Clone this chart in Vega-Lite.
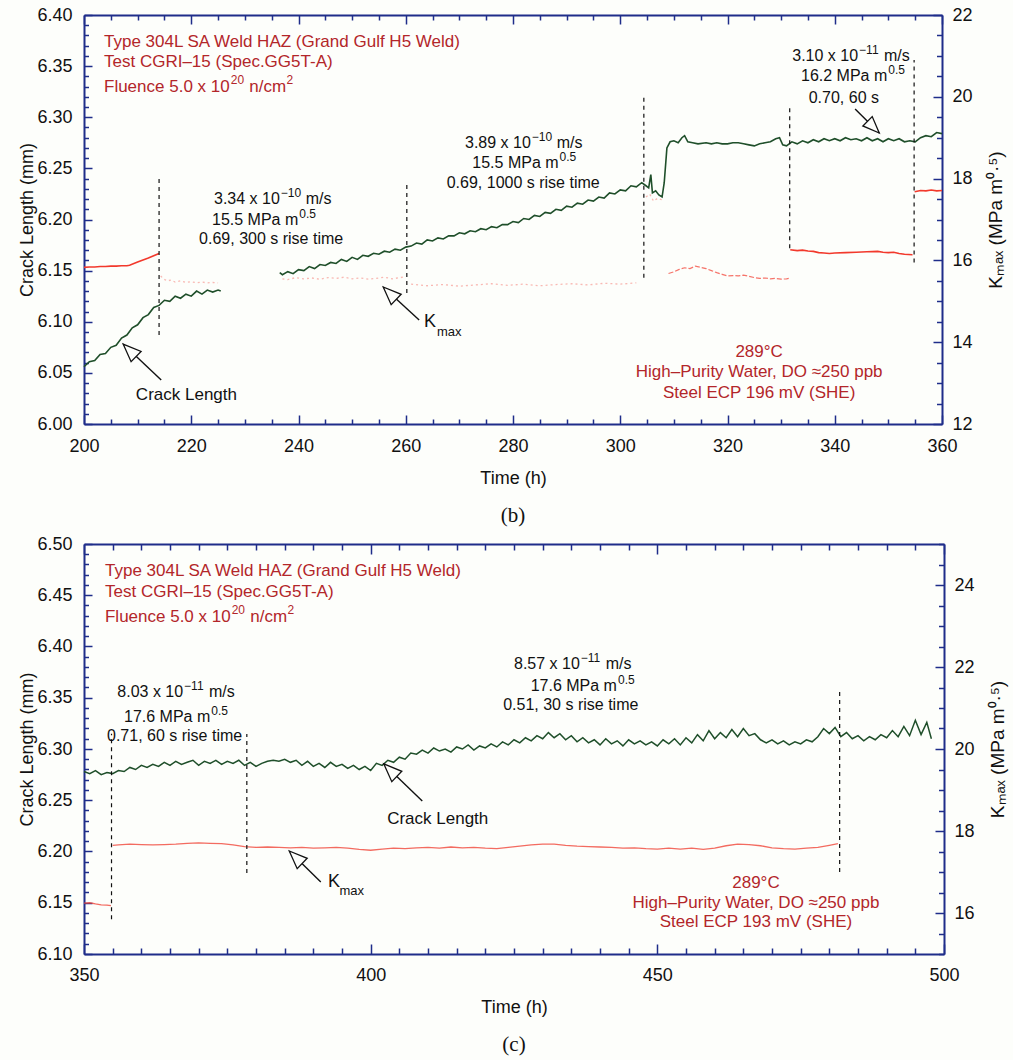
{
  "$schema": "https://vega.github.io/schema/vega-lite/v6.json",
  "background": "#fdfefb",
  "padding": {"left": 18, "top": 6, "right": 5, "bottom": 5},
  "spacing": 9,
  "config": {
    "view": {"stroke": null},
    "font": "Liberation Sans",
    "axis": {"labelFont": "Liberation Sans", "titleFont": "Liberation Sans", "labelFontSize": 18, "titleFontSize": 18, "titleFontWeight": "normal", "labelColor": "#111111", "titleColor": "#111111", "domainColor": "#1f2d8a", "tickColor": "#1f2d8a", "domainWidth": 2, "tickWidth": 1.5, "grid": false, "labelFlush": false, "labelOverlap": false},
    "title": {"font": "Liberation Serif", "fontSize": 21, "fontWeight": "normal", "color": "#111111"}
  },
  "datasets": {
    "gB": [
      {"t":200,"v":6.056,"s":1},{"t":201,"v":6.061,"s":1},{"t":202,"v":6.062,"s":1},{"t":203,"v":6.068,"s":1},{"t":204,"v":6.069,"s":1},{"t":205,"v":6.075,"s":1},{"t":206,"v":6.077,"s":1},{"t":207,"v":6.084,"s":1},{"t":208,"v":6.087,"s":1},{"t":209,"v":6.094,"s":1},{"t":210,"v":6.097,"s":1},{"t":211,"v":6.104,"s":1},{"t":212,"v":6.107,"s":1},{"t":213,"v":6.114,"s":1},{"t":214,"v":6.116,"s":1},{"t":215,"v":6.121,"s":1},{"t":216,"v":6.12,"s":1},{"t":217,"v":6.125,"s":1},{"t":218,"v":6.123,"s":1},{"t":219,"v":6.127,"s":1},{"t":220,"v":6.125,"s":1},{"t":221,"v":6.13,"s":1},{"t":222,"v":6.127,"s":1},{"t":223,"v":6.131,"s":1},{"t":224,"v":6.129,"s":1},{"t":225,"v":6.131,"s":1},{"t":225.5,"v":6.13,"s":1},
      {"t":236.5,"v":6.148,"s":2},{"t":237,"v":6.146,"s":2},{"t":238,"v":6.149,"s":2},{"t":239,"v":6.147,"s":2},{"t":240,"v":6.151,"s":2},{"t":241,"v":6.15,"s":2},{"t":242,"v":6.154,"s":2},{"t":243,"v":6.152,"s":2},{"t":244,"v":6.156,"s":2},{"t":245,"v":6.155,"s":2},{"t":246,"v":6.158,"s":2},{"t":247,"v":6.157,"s":2},{"t":248,"v":6.161,"s":2},{"t":249,"v":6.159,"s":2},{"t":250,"v":6.163,"s":2},{"t":251,"v":6.161,"s":2},{"t":252,"v":6.165,"s":2},{"t":253,"v":6.164,"s":2},{"t":254,"v":6.167,"s":2},{"t":255,"v":6.166,"s":2},{"t":256,"v":6.169,"s":2},{"t":257,"v":6.168,"s":2},{"t":258,"v":6.171,"s":2},{"t":259,"v":6.17,"s":2},{"t":260,"v":6.173,"s":2},{"t":261,"v":6.174,"s":2},{"t":262,"v":6.177,"s":2},{"t":263,"v":6.176,"s":2},{"t":264,"v":6.18,"s":2},{"t":265,"v":6.179,"s":2},{"t":266,"v":6.182,"s":2},{"t":267,"v":6.181,"s":2},{"t":268,"v":6.184,"s":2},{"t":269,"v":6.184,"s":2},{"t":270,"v":6.187,"s":2},{"t":271,"v":6.186,"s":2},{"t":272,"v":6.189,"s":2},{"t":273,"v":6.188,"s":2},{"t":274,"v":6.191,"s":2},{"t":275,"v":6.19,"s":2},{"t":276,"v":6.193,"s":2},{"t":277,"v":6.192,"s":2},{"t":278,"v":6.195,"s":2},{"t":279,"v":6.195,"s":2},{"t":280,"v":6.198,"s":2},{"t":281,"v":6.197,"s":2},{"t":282,"v":6.201,"s":2},{"t":283,"v":6.2,"s":2},{"t":284,"v":6.204,"s":2},{"t":285,"v":6.203,"s":2},{"t":286,"v":6.207,"s":2},{"t":287,"v":6.206,"s":2},{"t":288,"v":6.21,"s":2},{"t":289,"v":6.209,"s":2},{"t":290,"v":6.213,"s":2},{"t":291,"v":6.212,"s":2},{"t":292,"v":6.216,"s":2},{"t":293,"v":6.215,"s":2},{"t":294,"v":6.219,"s":2},{"t":295,"v":6.218,"s":2},{"t":296,"v":6.222,"s":2},{"t":297,"v":6.221,"s":2},{"t":298,"v":6.226,"s":2},{"t":299,"v":6.225,"s":2},{"t":300,"v":6.229,"s":2},{"t":301,"v":6.228,"s":2},{"t":302,"v":6.233,"s":2},{"t":303,"v":6.232,"s":2},{"t":304,"v":6.236,"s":2},{"t":304.8,"v":6.233,"s":2},{"t":305.3,"v":6.231,"s":2},{"t":305.7,"v":6.244,"s":2},{"t":306.0,"v":6.226,"s":2},{"t":306.6,"v":6.228,"s":2},{"t":307.2,"v":6.224,"s":2},{"t":307.8,"v":6.222,"s":2},{"t":308.2,"v":6.236,"s":2},{"t":308.7,"v":6.27,"s":2},{"t":309.3,"v":6.276,"s":2},{"t":310,"v":6.277,"s":2},{"t":310.8,"v":6.275,"s":2},{"t":311.5,"v":6.28,"s":2},{"t":312,"v":6.282,"s":2},{"t":312.6,"v":6.276,"s":2},{"t":313.5,"v":6.275,"s":2},{"t":314.5,"v":6.274,"s":2},{"t":316,"v":6.275,"s":2},{"t":317,"v":6.274,"s":2},{"t":318,"v":6.275,"s":2},{"t":319,"v":6.274,"s":2},{"t":320,"v":6.274,"s":2},{"t":321,"v":6.275,"s":2},{"t":322,"v":6.275,"s":2},{"t":323,"v":6.274,"s":2},{"t":324,"v":6.273,"s":2},{"t":325,"v":6.272,"s":2},{"t":326,"v":6.274,"s":2},{"t":327,"v":6.275,"s":2},{"t":328,"v":6.276,"s":2},{"t":329,"v":6.279,"s":2},{"t":329.7,"v":6.28,"s":2},{"t":330.3,"v":6.273,"s":2},{"t":331,"v":6.272,"s":2},{"t":331.5,"v":6.274,"s":2},{"t":332,"v":6.276,"s":2},{"t":333,"v":6.274,"s":2},{"t":334,"v":6.277,"s":2},{"t":335,"v":6.275,"s":2},{"t":336,"v":6.278,"s":2},{"t":337,"v":6.276,"s":2},{"t":338,"v":6.279,"s":2},{"t":339,"v":6.277,"s":2},{"t":340,"v":6.279,"s":2},{"t":341,"v":6.277,"s":2},{"t":342,"v":6.28,"s":2},{"t":343,"v":6.278,"s":2},{"t":344,"v":6.279,"s":2},{"t":345,"v":6.277,"s":2},{"t":346,"v":6.28,"s":2},{"t":347,"v":6.277,"s":2},{"t":348,"v":6.279,"s":2},{"t":349,"v":6.276,"s":2},{"t":350,"v":6.279,"s":2},{"t":351,"v":6.277,"s":2},{"t":352,"v":6.279,"s":2},{"t":353,"v":6.276,"s":2},{"t":354,"v":6.277,"s":2},{"t":355,"v":6.276,"s":2},{"t":356,"v":6.28,"s":2},{"t":357,"v":6.282,"s":2},{"t":358,"v":6.281,"s":2},{"t":359,"v":6.285,"s":2},{"t":360,"v":6.284,"s":2}
    ],
    "rBs": [
      {"t":200,"k":15.83,"s":1},{"t":201,"k":15.84,"s":1},{"t":202,"k":15.84,"s":1},{"t":203,"k":15.85,"s":1},{"t":204,"k":15.85,"s":1},{"t":205,"k":15.86,"s":1},{"t":206,"k":15.86,"s":1},{"t":207,"k":15.87,"s":1},{"t":208,"k":15.87,"s":1},{"t":208.5,"k":15.88,"s":1},{"t":210,"k":15.96,"s":1},{"t":212,"k":16.06,"s":1},{"t":214,"k":16.17,"s":1},
      {"t":331.7,"k":16.26,"s":2},{"t":333,"k":16.24,"s":2},{"t":334,"k":16.25,"s":2},{"t":335,"k":16.23,"s":2},{"t":336,"k":16.22,"s":2},{"t":337,"k":16.19,"s":2},{"t":338,"k":16.18,"s":2},{"t":339,"k":16.17,"s":2},{"t":340,"k":16.18,"s":2},{"t":342,"k":16.19,"s":2},{"t":344,"k":16.2,"s":2},{"t":346,"k":16.21,"s":2},{"t":348,"k":16.22,"s":2},{"t":349,"k":16.2,"s":2},{"t":350,"k":16.19,"s":2},{"t":351,"k":16.2,"s":2},{"t":352,"k":16.17,"s":2},{"t":353,"k":16.15,"s":2},{"t":354.5,"k":16.14,"s":2},
      {"t":354.9,"k":17.68,"s":3},{"t":356,"k":17.71,"s":3},{"t":357,"k":17.7,"s":3},{"t":358,"k":17.72,"s":3},{"t":359,"k":17.7,"s":3},{"t":360,"k":17.71,"s":3}
    ],
    "rBm": [
      {"t":309,"k":15.68},{"t":310,"k":15.72},{"t":311,"k":15.78},{"t":312,"k":15.82},{"t":313,"k":15.8},{"t":314,"k":15.86},{"t":315,"k":15.83},{"t":316,"k":15.8},{"t":317,"k":15.75},{"t":318,"k":15.7},{"t":319,"k":15.66},{"t":320,"k":15.62},{"t":321,"k":15.63},{"t":322,"k":15.62},{"t":323,"k":15.64},{"t":324,"k":15.61},{"t":325,"k":15.58},{"t":326,"k":15.56},{"t":327,"k":15.57},{"t":328,"k":15.55},{"t":329,"k":15.56},{"t":330,"k":15.54},{"t":331,"k":15.55},{"t":331.5,"k":15.56}
    ],
    "rBf": [
      {"t":214.3,"k":15.62,"s":1},{"t":214.8,"k":15.55,"s":1},{"t":215.5,"k":15.5,"s":1},{"t":216.3,"k":15.52,"s":1},{"t":217,"k":15.47,"s":1},{"t":218,"k":15.5,"s":1},{"t":219,"k":15.46,"s":1},{"t":220,"k":15.48,"s":1},{"t":221,"k":15.45,"s":1},{"t":222,"k":15.47,"s":1},{"t":223,"k":15.45,"s":1},{"t":224,"k":15.46,"s":1},{"t":225,"k":15.45,"s":1},
      {"t":237,"k":15.55,"s":2},{"t":238,"k":15.53,"s":2},{"t":239.5,"k":15.58,"s":2},{"t":241,"k":15.55,"s":2},{"t":242.5,"k":15.57,"s":2},{"t":244,"k":15.54,"s":2},{"t":245.5,"k":15.58,"s":2},{"t":247,"k":15.56,"s":2},{"t":248.5,"k":15.59,"s":2},{"t":250,"k":15.55,"s":2},{"t":251.5,"k":15.57,"s":2},{"t":253,"k":15.54,"s":2},{"t":254.5,"k":15.56,"s":2},{"t":256,"k":15.59,"s":2},{"t":257.5,"k":15.55,"s":2},{"t":259,"k":15.58,"s":2},{"t":260,"k":15.6,"s":2},
      {"t":261,"k":15.42,"s":3},{"t":264,"k":15.38,"s":3},{"t":267,"k":15.41,"s":3},{"t":270,"k":15.37,"s":3},{"t":273,"k":15.4,"s":3},{"t":276,"k":15.43,"s":3},{"t":279,"k":15.39,"s":3},{"t":282,"k":15.42,"s":3},{"t":285,"k":15.38,"s":3},{"t":288,"k":15.41,"s":3},{"t":291,"k":15.43,"s":3},{"t":294,"k":15.4,"s":3},{"t":297,"k":15.44,"s":3},{"t":300,"k":15.42,"s":3},{"t":303,"k":15.45,"s":3},
      {"t":304.8,"k":17.55,"s":4},{"t":305.5,"k":17.62,"s":4},{"t":306.2,"k":17.45,"s":4},{"t":307,"k":17.52,"s":4},{"t":307.8,"k":17.48,"s":4}
    ],
    "dB": [
      {"t":214,"v":6.087,"v2":6.241},{"t":260.2,"v":6.128,"v2":6.237},{"t":304.4,"v":6.143,"v2":6.32},{"t":331.6,"v":6.172,"v2":6.309},{"t":354.8,"v":6.158,"v2":6.356}
    ],
    "tB_redL": [
      {"t":203.73,"v":6.3736,"label":"Type 304L SA Weld HAZ (Grand Gulf H5 Weld)"},
      {"t":203.73,"v":6.354,"label":"Test CGRI–15 (Spec.GG5T-A)"},
      {"t":203.73,"v":6.3296,"label":"Fluence 5.0 x 10"},
      {"t":230.81,"v":6.3296,"label":"n/cm"}
    ],
    "tB_redSup": [{"t":227.36,"v":6.3296,"label":"20"},{"t":237.78,"v":6.3296,"label":"2"}],
    "tB_blkL": [
      {"t":224.24,"v":6.22,"label":"3.34 x 10"},{"t":241.33,"v":6.22,"label":"m/s"},
      {"t":223.87,"v":6.1995,"label":"15.5 MPa m"},
      {"t":271.05,"v":6.2748,"label":"3.89 x 10"},{"t":288.14,"v":6.2748,"label":"m/s"},
      {"t":272.41,"v":6.2553,"label":"15.5 MPa m"},
      {"t":332.08,"v":6.3599,"label":"3.10 x 10"},{"t":349.17,"v":6.3599,"label":"m/s"},
      {"t":333.71,"v":6.3403,"label":"16.2 MPa m"}
    ],
    "tB_blkSup": [
      {"t":236.7,"v":6.22,"label":"−10"},{"t":240.15,"v":6.1995,"label":"0.5"},
      {"t":283.51,"v":6.2748,"label":"−10"},{"t":288.69,"v":6.2553,"label":"0.5"},
      {"t":344.54,"v":6.3599,"label":"−11"},{"t":349.99,"v":6.3403,"label":"0.5"}
    ],
    "tB_blkC": [
      {"t":234.9,"v":6.181,"label":"0.69, 300 s rise time"},
      {"t":281.9,"v":6.2357,"label":"0.69, 1000 s rise time"},
      {"t":341.7,"v":6.3188,"label":"0.70, 60 s"}
    ],
    "tB_redC": [
      {"t":325.9,"v":6.0704,"label":"289°C"},{"t":325.9,"v":6.0509,"label":"High–Purity Water, DO ≈250 ppb"},{"t":325.9,"v":6.0303,"label":"Steel ECP 196 mV (SHE)"}
    ],
    "tB_lbl": [{"t":219.1,"v":6.0284,"label":"Crack Length"}],
    "tB_K": [{"t":264.5,"v":6.0998,"label":"K"}],
    "tB_max": [{"t":268.1,"v":6.09,"label":"max"}],
    "aB": [{"t":207.3,"v":6.0782,"t2":214.4,"v2":6.043},{"t":255.8,"v":6.134,"t2":262.5,"v2":6.1017}],
    "aB2": [{"t":348.3,"v":6.2846,"t2":343.8,"v2":6.3081}],
    "gC": [
      {"t":350,"v":6.278},{"t":351,"v":6.276},{"t":352,"v":6.279},{"t":353,"v":6.275},{"t":354,"v":6.277},{"t":355,"v":6.276},{"t":356,"v":6.279},{"t":357,"v":6.278},{"t":358,"v":6.282},{"t":359,"v":6.28},{"t":360,"v":6.284},{"t":361,"v":6.282},{"t":362,"v":6.285},{"t":363,"v":6.283},{"t":364,"v":6.287},{"t":365,"v":6.284},{"t":366,"v":6.288},{"t":367,"v":6.285},{"t":368,"v":6.287},{"t":369,"v":6.289},{"t":370,"v":6.284},{"t":371,"v":6.288},{"t":372,"v":6.286},{"t":373,"v":6.289},{"t":374,"v":6.285},{"t":375,"v":6.288},{"t":376,"v":6.286},{"t":377,"v":6.289},{"t":378,"v":6.284},{"t":379,"v":6.287},{"t":380,"v":6.283},{"t":381,"v":6.286},{"t":382,"v":6.288},{"t":383,"v":6.289},{"t":384,"v":6.288},{"t":385,"v":6.29},{"t":386,"v":6.287},{"t":387,"v":6.289},{"t":388,"v":6.284},{"t":389,"v":6.288},{"t":390,"v":6.283},{"t":391,"v":6.286},{"t":392,"v":6.282},{"t":393,"v":6.287},{"t":394,"v":6.283},{"t":395,"v":6.285},{"t":396,"v":6.281},{"t":397,"v":6.284},{"t":398,"v":6.28},{"t":399,"v":6.283},{"t":400,"v":6.279},{"t":401,"v":6.286},{"t":402,"v":6.284},{"t":403,"v":6.289},{"t":404,"v":6.287},{"t":405,"v":6.292},{"t":406,"v":6.29},{"t":407,"v":6.296},{"t":408,"v":6.295},{"t":409,"v":6.299},{"t":410,"v":6.296},{"t":411,"v":6.301},{"t":412,"v":6.298},{"t":413,"v":6.3},{"t":414,"v":6.297},{"t":415,"v":6.302},{"t":416,"v":6.3},{"t":417,"v":6.304},{"t":418,"v":6.299},{"t":419,"v":6.303},{"t":420,"v":6.301},{"t":421,"v":6.305},{"t":422,"v":6.302},{"t":423,"v":6.307},{"t":424,"v":6.304},{"t":425,"v":6.309},{"t":426,"v":6.306},{"t":427,"v":6.311},{"t":428,"v":6.308},{"t":429,"v":6.313},{"t":430,"v":6.31},{"t":431,"v":6.316},{"t":432,"v":6.311},{"t":433,"v":6.315},{"t":434,"v":6.309},{"t":435,"v":6.313},{"t":436,"v":6.307},{"t":437,"v":6.311},{"t":438,"v":6.306},{"t":439,"v":6.309},{"t":440,"v":6.304},{"t":441,"v":6.31},{"t":442,"v":6.305},{"t":443,"v":6.308},{"t":444,"v":6.303},{"t":445,"v":6.309},{"t":446,"v":6.305},{"t":447,"v":6.308},{"t":448,"v":6.304},{"t":449,"v":6.307},{"t":450,"v":6.303},{"t":451,"v":6.309},{"t":452,"v":6.305},{"t":453,"v":6.31},{"t":454,"v":6.304},{"t":455,"v":6.311},{"t":456,"v":6.306},{"t":457,"v":6.314},{"t":458,"v":6.308},{"t":459,"v":6.318},{"t":460,"v":6.31},{"t":461,"v":6.316},{"t":462,"v":6.311},{"t":463,"v":6.319},{"t":464,"v":6.312},{"t":465,"v":6.32},{"t":466,"v":6.313},{"t":467,"v":6.315},{"t":468,"v":6.309},{"t":469,"v":6.306},{"t":470,"v":6.309},{"t":471,"v":6.305},{"t":472,"v":6.308},{"t":473,"v":6.304},{"t":474,"v":6.307},{"t":475,"v":6.305},{"t":476,"v":6.309},{"t":477,"v":6.307},{"t":478,"v":6.312},{"t":479,"v":6.32},{"t":480,"v":6.315},{"t":481,"v":6.321},{"t":482,"v":6.312},{"t":483,"v":6.316},{"t":484,"v":6.31},{"t":485,"v":6.313},{"t":486,"v":6.308},{"t":487,"v":6.312},{"t":488,"v":6.309},{"t":489,"v":6.314},{"t":490,"v":6.311},{"t":491,"v":6.318},{"t":492,"v":6.312},{"t":493,"v":6.322},{"t":494,"v":6.313},{"t":495,"v":6.328},{"t":496,"v":6.314},{"t":497,"v":6.326},{"t":497.8,"v":6.31}
    ],
    "rC": [
      {"t":350,"k":16.24,"s":1},{"t":351,"k":16.25,"s":1},{"t":352,"k":16.22,"s":1},{"t":353,"k":16.2,"s":1},{"t":354,"k":16.19,"s":1},{"t":354.7,"k":16.18,"s":1},
      {"t":355,"k":17.65,"s":2},{"t":356,"k":17.66,"s":2},{"t":358,"k":17.68,"s":2},{"t":360,"k":17.67,"s":2},{"t":362,"k":17.66,"s":2},{"t":364,"k":17.67,"s":2},{"t":366,"k":17.68,"s":2},{"t":368,"k":17.7,"s":2},{"t":370,"k":17.71,"s":2},{"t":372,"k":17.7,"s":2},{"t":374,"k":17.69,"s":2},{"t":376,"k":17.66,"s":2},{"t":378,"k":17.62,"s":2},{"t":380,"k":17.6,"s":2},{"t":382,"k":17.61,"s":2},{"t":384,"k":17.6,"s":2},{"t":386,"k":17.59,"s":2},{"t":388,"k":17.6,"s":2},{"t":390,"k":17.58,"s":2},{"t":392,"k":17.59,"s":2},{"t":394,"k":17.6,"s":2},{"t":396,"k":17.58,"s":2},{"t":398,"k":17.55,"s":2},{"t":400,"k":17.53,"s":2},{"t":402,"k":17.56,"s":2},{"t":404,"k":17.58,"s":2},{"t":406,"k":17.57,"s":2},{"t":408,"k":17.59,"s":2},{"t":410,"k":17.6,"s":2},{"t":412,"k":17.58,"s":2},{"t":414,"k":17.61,"s":2},{"t":416,"k":17.59,"s":2},{"t":418,"k":17.6,"s":2},{"t":420,"k":17.58,"s":2},{"t":422,"k":17.57,"s":2},{"t":424,"k":17.6,"s":2},{"t":426,"k":17.63,"s":2},{"t":428,"k":17.66,"s":2},{"t":430,"k":17.68,"s":2},{"t":432,"k":17.68,"s":2},{"t":434,"k":17.65,"s":2},{"t":436,"k":17.63,"s":2},{"t":438,"k":17.62,"s":2},{"t":440,"k":17.61,"s":2},{"t":442,"k":17.6,"s":2},{"t":444,"k":17.58,"s":2},{"t":446,"k":17.59,"s":2},{"t":448,"k":17.57,"s":2},{"t":450,"k":17.56,"s":2},{"t":452,"k":17.58,"s":2},{"t":454,"k":17.56,"s":2},{"t":456,"k":17.58,"s":2},{"t":458,"k":17.55,"s":2},{"t":460,"k":17.58,"s":2},{"t":462,"k":17.64,"s":2},{"t":464,"k":17.68,"s":2},{"t":466,"k":17.67,"s":2},{"t":468,"k":17.64,"s":2},{"t":470,"k":17.59,"s":2},{"t":472,"k":17.57,"s":2},{"t":474,"k":17.56,"s":2},{"t":476,"k":17.58,"s":2},{"t":478,"k":17.6,"s":2},{"t":480,"k":17.65,"s":2},{"t":481.5,"k":17.69,"s":2}
    ],
    "dC": [{"t":354.8,"v":6.134,"v2":6.315},{"t":378.4,"v":6.179,"v2":6.3146},{"t":481.8,"v":6.18,"v2":6.3585}],
    "tC_redL": [
      {"t":353.66,"v":6.4737,"label":"Type 304L SA Weld HAZ (Grand Gulf H5 Weld)"},
      {"t":353.66,"v":6.4532,"label":"Test CGRI–15 (Spec.GG5T-A)"},
      {"t":353.66,"v":6.4288,"label":"Fluence 5.0 x 10"},
      {"t":378.99,"v":6.4288,"label":"n/cm"}
    ],
    "tC_redSup": [{"t":375.76,"v":6.4288,"label":"20"},{"t":385.51,"v":6.4288,"label":"2"}],
    "tC_blkL": [
      {"t":355.81,"v":6.3556,"label":"8.03 x 10"},{"t":371.8,"v":6.3556,"label":"m/s"},
      {"t":356.98,"v":6.3312,"label":"17.6 MPa m"},
      {"t":425.0,"v":6.3829,"label":"8.57 x 10"},{"t":440.99,"v":6.3829,"label":"m/s"},
      {"t":427.91,"v":6.3615,"label":"17.6 MPa m"}
    ],
    "tC_blkSup": [
      {"t":367.46,"v":6.3556,"label":"−11"},{"t":372.21,"v":6.3312,"label":"0.5"},
      {"t":436.65,"v":6.3829,"label":"−11"},{"t":443.14,"v":6.3615,"label":"0.5"}
    ],
    "tC_blkC": [{"t":365.8,"v":6.3127,"label":"0.71, 60 s rise time"},{"t":434.9,"v":6.3429,"label":"0.51, 30 s rise time"}],
    "tC_redC": [
      {"t":467.2,"v":6.1693,"label":"289°C"},{"t":467.2,"v":6.1498,"label":"High–Purity Water, DO ≈250 ppb"},{"t":467.2,"v":6.1312,"label":"Steel ECP 193 mV (SHE)"}
    ],
    "tC_lbl": [{"t":411.7,"v":6.2317,"label":"Crack Length"}],
    "tC_K": [{"t":393.6,"v":6.1702,"label":"K"}],
    "tC_max": [{"t":396.7,"v":6.1615,"label":"max"}],
    "aC": [{"t":402.3,"v":6.2854,"t2":409.0,"v2":6.2493},{"t":385.8,"v":6.2005,"t2":391.3,"v2":6.1702}]
  },
  "vconcat": [
    {
      "width": 858, "height": 409,
      "title": {"text": "(b)", "orient": "bottom", "offset": 18, "anchor": "middle"},
      "resolve": {"scale": {"y": "independent"}, "axis": {"x": "independent", "y": "independent"}},
      "layer": [
        {
          "data": {"name": "gB"},
          "mark": {"type": "line", "color": "#1f4f2a", "strokeWidth": 1.6},
          "encoding": {
            "x": {"field": "t", "type": "quantitative", "scale": {"domain": [200, 360], "nice": false, "zero": false},
              "axis": {"orient": "bottom", "title": "Time (h)", "titlePadding": 10, "labelPadding": 22,
                "values": [200,205,210,215,220,225,230,235,240,245,250,255,260,265,270,275,280,285,290,295,300,305,310,315,320,325,330,335,340,345,350,355,360],
                "labelExpr": "datum.value % 20 === 0 ? datum.label : ''",
                "tickSize": {"condition": {"test": "datum.value % 20 === 0", "value": -9}, "value": -5}}},
            "y": {"field": "v", "type": "quantitative", "scale": {"domain": [6.0, 6.4], "nice": false, "zero": false},
              "axis": {"orient": "left", "title": "Crack Length (mm)", "titlePadding": 0, "labelPadding": 20, "format": ".2f",
                "values": [6.00,6.01,6.02,6.03,6.04,6.05,6.06,6.07,6.08,6.09,6.10,6.11,6.12,6.13,6.14,6.15,6.16,6.17,6.18,6.19,6.20,6.21,6.22,6.23,6.24,6.25,6.26,6.27,6.28,6.29,6.30,6.31,6.32,6.33,6.34,6.35,6.36,6.37,6.38,6.39,6.40],
                "labelExpr": "round(datum.value*100) % 5 === 0 ? datum.label : ''",
                "tickSize": {"condition": {"test": "round(datum.value*100) % 5 === 0", "value": -8}, "value": -4.5}}},
            "detail": {"field": "s"}
          }
        },
        {
          "data": {"name": "rBs"},
          "mark": {"type": "line", "color": "#f2392c", "strokeWidth": 1.6},
          "encoding": {
            "x": {"field": "t", "type": "quantitative",
              "axis": {"orient": "top", "title": null, "labels": false,
                "values": [200,205,210,215,220,225,230,235,240,245,250,255,260,265,270,275,280,285,290,295,300,305,310,315,320,325,330,335,340,345,350,355,360],
                "tickSize": {"condition": {"test": "datum.value % 20 === 0", "value": -9}, "value": -5}}},
            "y": {"field": "k", "type": "quantitative", "scale": {"domain": [12, 22], "nice": false, "zero": false},
              "axis": {"orient": "right", "title": "Kₘₐₓ (MPa m⁰·⁵)", "titleFontSize": 19, "titleAngle": -90, "titleBaseline": "top", "titlePadding": 14, "labelPadding": 19, "format": ".0f",
                "values": [12,12.5,13,13.5,14,14.5,15,15.5,16,16.5,17,17.5,18,18.5,19,19.5,20,20.5,21,21.5,22],
                "labelExpr": "round(datum.value*2) % 4 === 0 ? datum.label : ''",
                "tickSize": {"condition": {"test": "round(datum.value*2) % 4 === 0", "value": -9}, "value": -5.5}}},
            "detail": {"field": "s"}
          }
        },
        {
          "data": {"name": "rBm"},
          "mark": {"type": "line", "color": "#f2392c", "strokeWidth": 1.2, "opacity": 0.7, "strokeDash": [5, 2]},
          "encoding": {"x": {"field": "t", "type": "quantitative", "axis": null}, "y": {"field": "k", "type": "quantitative", "scale": {"domain": [12, 22], "nice": false, "zero": false}, "axis": null}}
        },
        {
          "data": {"name": "rBf"},
          "mark": {"type": "line", "color": "#f5635a", "strokeWidth": 1.3, "opacity": 0.45, "strokeDash": [2, 3]},
          "encoding": {"x": {"field": "t", "type": "quantitative", "axis": null}, "y": {"field": "k", "type": "quantitative", "scale": {"domain": [12, 22], "nice": false, "zero": false}, "axis": null}, "detail": {"field": "s"}}
        },
        {
          "data": {"name": "dB"},
          "mark": {"type": "rule", "color": "#111111", "strokeWidth": 1.2, "strokeDash": [4, 4]},
          "encoding": {"x": {"field": "t", "type": "quantitative", "axis": null}, "y": {"field": "v", "type": "quantitative", "scale": {"domain": [6.0, 6.4], "nice": false, "zero": false}, "axis": null}, "y2": {"field": "v2"}}
        },
        {
          "data": {"name": "tB_redL"},
          "mark": {"type": "text", "align": "left", "baseline": "middle", "fontSize": 17, "color": "#b3262a"},
          "encoding": {"x": {"field": "t", "type": "quantitative", "axis": null}, "y": {"field": "v", "type": "quantitative", "scale": {"domain": [6.0, 6.4], "nice": false, "zero": false}, "axis": null}, "text": {"field": "label"}}
        },
        {
          "data": {"name": "tB_redSup"},
          "mark": {"type": "text", "align": "left", "baseline": "middle", "fontSize": 12, "dy": -7, "color": "#b3262a"},
          "encoding": {"x": {"field": "t", "type": "quantitative", "axis": null}, "y": {"field": "v", "type": "quantitative", "scale": {"domain": [6.0, 6.4], "nice": false, "zero": false}, "axis": null}, "text": {"field": "label"}}
        },
        {
          "data": {"name": "tB_blkL"},
          "mark": {"type": "text", "align": "left", "baseline": "middle", "fontSize": 16, "color": "#111111"},
          "encoding": {"x": {"field": "t", "type": "quantitative", "axis": null}, "y": {"field": "v", "type": "quantitative", "scale": {"domain": [6.0, 6.4], "nice": false, "zero": false}, "axis": null}, "text": {"field": "label"}}
        },
        {
          "data": {"name": "tB_blkSup"},
          "mark": {"type": "text", "align": "left", "baseline": "middle", "fontSize": 12, "dy": -6, "color": "#111111"},
          "encoding": {"x": {"field": "t", "type": "quantitative", "axis": null}, "y": {"field": "v", "type": "quantitative", "scale": {"domain": [6.0, 6.4], "nice": false, "zero": false}, "axis": null}, "text": {"field": "label"}}
        },
        {
          "data": {"name": "tB_blkC"},
          "mark": {"type": "text", "align": "center", "baseline": "middle", "fontSize": 16, "color": "#111111"},
          "encoding": {"x": {"field": "t", "type": "quantitative", "axis": null}, "y": {"field": "v", "type": "quantitative", "scale": {"domain": [6.0, 6.4], "nice": false, "zero": false}, "axis": null}, "text": {"field": "label"}}
        },
        {
          "data": {"name": "tB_redC"},
          "mark": {"type": "text", "align": "center", "baseline": "middle", "fontSize": 17, "color": "#b3262a"},
          "encoding": {"x": {"field": "t", "type": "quantitative", "axis": null}, "y": {"field": "v", "type": "quantitative", "scale": {"domain": [6.0, 6.4], "nice": false, "zero": false}, "axis": null}, "text": {"field": "label"}}
        },
        {
          "data": {"name": "tB_lbl"},
          "mark": {"type": "text", "align": "center", "baseline": "middle", "fontSize": 17, "color": "#111111"},
          "encoding": {"x": {"field": "t", "type": "quantitative", "axis": null}, "y": {"field": "v", "type": "quantitative", "scale": {"domain": [6.0, 6.4], "nice": false, "zero": false}, "axis": null}, "text": {"field": "label"}}
        },
        {
          "data": {"name": "tB_K"},
          "mark": {"type": "text", "align": "center", "baseline": "middle", "fontSize": 18, "color": "#111111"},
          "encoding": {"x": {"field": "t", "type": "quantitative", "axis": null}, "y": {"field": "v", "type": "quantitative", "scale": {"domain": [6.0, 6.4], "nice": false, "zero": false}, "axis": null}, "text": {"field": "label"}}
        },
        {
          "data": {"name": "tB_max"},
          "mark": {"type": "text", "align": "center", "baseline": "middle", "fontSize": 13, "color": "#111111"},
          "encoding": {"x": {"field": "t", "type": "quantitative", "axis": null}, "y": {"field": "v", "type": "quantitative", "scale": {"domain": [6.0, 6.4], "nice": false, "zero": false}, "axis": null}, "text": {"field": "label"}}
        },
        {
          "data": {"name": "aB"},
          "mark": {"type": "rule", "color": "#111111", "strokeWidth": 1.4},
          "encoding": {"x": {"field": "t2", "type": "quantitative", "axis": null}, "y": {"field": "v2", "type": "quantitative", "scale": {"domain": [6.0, 6.4], "nice": false, "zero": false}, "axis": null}, "x2": {"field": "t"}, "y2": {"field": "v"}}
        },
        {
          "data": {"name": "aB"},
          "mark": {"type": "point", "shape": "M0,0L0.4,1L-0.4,1Z", "size": 1296, "angle": 314, "filled": true, "fill": "#fdfefb", "stroke": "#111111", "strokeWidth": 1.3, "opacity": 1},
          "encoding": {"x": {"field": "t", "type": "quantitative", "axis": null}, "y": {"field": "v", "type": "quantitative", "scale": {"domain": [6.0, 6.4], "nice": false, "zero": false}, "axis": null}}
        },
        {
          "data": {"name": "aB2"},
          "mark": {"type": "rule", "color": "#111111", "strokeWidth": 1.4},
          "encoding": {"x": {"field": "t2", "type": "quantitative", "axis": null}, "y": {"field": "v2", "type": "quantitative", "scale": {"domain": [6.0, 6.4], "nice": false, "zero": false}, "axis": null}, "x2": {"field": "t"}, "y2": {"field": "v"}}
        },
        {
          "data": {"name": "aB2"},
          "mark": {"type": "point", "shape": "M0,0L0.4,1L-0.4,1Z", "size": 1100, "angle": 135, "filled": true, "fill": "#fdfefb", "stroke": "#111111", "strokeWidth": 1.3, "opacity": 1},
          "encoding": {"x": {"field": "t", "type": "quantitative", "axis": null}, "y": {"field": "v", "type": "quantitative", "scale": {"domain": [6.0, 6.4], "nice": false, "zero": false}, "axis": null}}
        }
      ]
    },
    {
      "width": 860, "height": 410,
      "title": {"text": "(c)", "orient": "bottom", "offset": 18, "anchor": "middle"},
      "resolve": {"scale": {"y": "independent"}, "axis": {"x": "independent", "y": "independent"}},
      "layer": [
        {
          "data": {"name": "gC"},
          "mark": {"type": "line", "color": "#1f4f2a", "strokeWidth": 1.5},
          "encoding": {
            "x": {"field": "t", "type": "quantitative", "scale": {"domain": [350, 500], "nice": false, "zero": false},
              "axis": {"orient": "bottom", "title": "Time (h)", "titlePadding": 10, "labelPadding": 22,
                "values": [350,355,360,365,370,375,380,385,390,395,400,405,410,415,420,425,430,435,440,445,450,455,460,465,470,475,480,485,490,495,500],
                "labelExpr": "datum.value % 50 === 0 ? datum.label : ''",
                "tickSize": {"condition": {"test": "datum.value % 50 === 0", "value": -10}, "value": -6}}},
            "y": {"field": "v", "type": "quantitative", "scale": {"domain": [6.1, 6.5], "nice": false, "zero": false},
              "axis": {"orient": "left", "title": "Crack Length (mm)", "titlePadding": 0, "labelPadding": 20, "format": ".2f",
                "values": [6.10,6.11,6.12,6.13,6.14,6.15,6.16,6.17,6.18,6.19,6.20,6.21,6.22,6.23,6.24,6.25,6.26,6.27,6.28,6.29,6.30,6.31,6.32,6.33,6.34,6.35,6.36,6.37,6.38,6.39,6.40,6.41,6.42,6.43,6.44,6.45,6.46,6.47,6.48,6.49,6.50],
                "labelExpr": "round(datum.value*100) % 5 === 0 ? datum.label : ''",
                "tickSize": {"condition": {"test": "round(datum.value*100) % 5 === 0", "value": -8}, "value": -4.5}}}
          }
        },
        {
          "data": {"name": "rC"},
          "mark": {"type": "line", "color": "#f0463a", "strokeWidth": 1.3, "opacity": 0.8},
          "encoding": {
            "x": {"field": "t", "type": "quantitative",
              "axis": {"orient": "top", "title": null, "labels": false,
                "values": [350,355,360,365,370,375,380,385,390,395,400,405,410,415,420,425,430,435,440,445,450,455,460,465,470,475,480,485,490,495,500],
                "tickSize": {"condition": {"test": "datum.value % 50 === 0", "value": -10}, "value": -6}}},
            "y": {"field": "k", "type": "quantitative", "scale": {"domain": [15, 25], "nice": false, "zero": false},
              "axis": {"orient": "right", "title": "Kₘₐₓ (MPa m⁰·⁵)", "titleFontSize": 19, "titleAngle": -90, "titleBaseline": "top", "titlePadding": 14, "labelPadding": 19, "format": ".0f",
                "values": [15,15.5,16,16.5,17,17.5,18,18.5,19,19.5,20,20.5,21,21.5,22,22.5,23,23.5,24,24.5,25],
                "labelExpr": "round(datum.value*2) % 4 === 0 ? datum.label : ''",
                "tickSize": {"condition": {"test": "round(datum.value*2) % 4 === 0", "value": -9}, "value": -5.5}}},
            "detail": {"field": "s"}
          }
        },
        {
          "data": {"name": "dC"},
          "mark": {"type": "rule", "color": "#111111", "strokeWidth": 1.2, "strokeDash": [4, 4]},
          "encoding": {"x": {"field": "t", "type": "quantitative", "axis": null}, "y": {"field": "v", "type": "quantitative", "scale": {"domain": [6.1, 6.5], "nice": false, "zero": false}, "axis": null}, "y2": {"field": "v2"}}
        },
        {
          "data": {"name": "tC_redL"},
          "mark": {"type": "text", "align": "left", "baseline": "middle", "fontSize": 17, "color": "#b3262a"},
          "encoding": {"x": {"field": "t", "type": "quantitative", "axis": null}, "y": {"field": "v", "type": "quantitative", "scale": {"domain": [6.1, 6.5], "nice": false, "zero": false}, "axis": null}, "text": {"field": "label"}}
        },
        {
          "data": {"name": "tC_redSup"},
          "mark": {"type": "text", "align": "left", "baseline": "middle", "fontSize": 12, "dy": -7, "color": "#b3262a"},
          "encoding": {"x": {"field": "t", "type": "quantitative", "axis": null}, "y": {"field": "v", "type": "quantitative", "scale": {"domain": [6.1, 6.5], "nice": false, "zero": false}, "axis": null}, "text": {"field": "label"}}
        },
        {
          "data": {"name": "tC_blkL"},
          "mark": {"type": "text", "align": "left", "baseline": "middle", "fontSize": 16, "color": "#111111"},
          "encoding": {"x": {"field": "t", "type": "quantitative", "axis": null}, "y": {"field": "v", "type": "quantitative", "scale": {"domain": [6.1, 6.5], "nice": false, "zero": false}, "axis": null}, "text": {"field": "label"}}
        },
        {
          "data": {"name": "tC_blkSup"},
          "mark": {"type": "text", "align": "left", "baseline": "middle", "fontSize": 12, "dy": -6, "color": "#111111"},
          "encoding": {"x": {"field": "t", "type": "quantitative", "axis": null}, "y": {"field": "v", "type": "quantitative", "scale": {"domain": [6.1, 6.5], "nice": false, "zero": false}, "axis": null}, "text": {"field": "label"}}
        },
        {
          "data": {"name": "tC_blkC"},
          "mark": {"type": "text", "align": "center", "baseline": "middle", "fontSize": 16, "color": "#111111"},
          "encoding": {"x": {"field": "t", "type": "quantitative", "axis": null}, "y": {"field": "v", "type": "quantitative", "scale": {"domain": [6.1, 6.5], "nice": false, "zero": false}, "axis": null}, "text": {"field": "label"}}
        },
        {
          "data": {"name": "tC_redC"},
          "mark": {"type": "text", "align": "center", "baseline": "middle", "fontSize": 17, "color": "#b3262a"},
          "encoding": {"x": {"field": "t", "type": "quantitative", "axis": null}, "y": {"field": "v", "type": "quantitative", "scale": {"domain": [6.1, 6.5], "nice": false, "zero": false}, "axis": null}, "text": {"field": "label"}}
        },
        {
          "data": {"name": "tC_lbl"},
          "mark": {"type": "text", "align": "center", "baseline": "middle", "fontSize": 17, "color": "#111111"},
          "encoding": {"x": {"field": "t", "type": "quantitative", "axis": null}, "y": {"field": "v", "type": "quantitative", "scale": {"domain": [6.1, 6.5], "nice": false, "zero": false}, "axis": null}, "text": {"field": "label"}}
        },
        {
          "data": {"name": "tC_K"},
          "mark": {"type": "text", "align": "center", "baseline": "middle", "fontSize": 18, "color": "#111111"},
          "encoding": {"x": {"field": "t", "type": "quantitative", "axis": null}, "y": {"field": "v", "type": "quantitative", "scale": {"domain": [6.1, 6.5], "nice": false, "zero": false}, "axis": null}, "text": {"field": "label"}}
        },
        {
          "data": {"name": "tC_max"},
          "mark": {"type": "text", "align": "center", "baseline": "middle", "fontSize": 13, "color": "#111111"},
          "encoding": {"x": {"field": "t", "type": "quantitative", "axis": null}, "y": {"field": "v", "type": "quantitative", "scale": {"domain": [6.1, 6.5], "nice": false, "zero": false}, "axis": null}, "text": {"field": "label"}}
        },
        {
          "data": {"name": "aC"},
          "mark": {"type": "rule", "color": "#111111", "strokeWidth": 1.4},
          "encoding": {"x": {"field": "t2", "type": "quantitative", "axis": null}, "y": {"field": "v2", "type": "quantitative", "scale": {"domain": [6.1, 6.5], "nice": false, "zero": false}, "axis": null}, "x2": {"field": "t"}, "y2": {"field": "v"}}
        },
        {
          "data": {"name": "aC"},
          "mark": {"type": "point", "shape": "M0,0L0.4,1L-0.4,1Z", "size": 1296, "angle": 314, "filled": true, "fill": "#fdfefb", "stroke": "#111111", "strokeWidth": 1.3, "opacity": 1},
          "encoding": {"x": {"field": "t", "type": "quantitative", "axis": null}, "y": {"field": "v", "type": "quantitative", "scale": {"domain": [6.1, 6.5], "nice": false, "zero": false}, "axis": null}}
        }
      ]
    }
  ]
}
